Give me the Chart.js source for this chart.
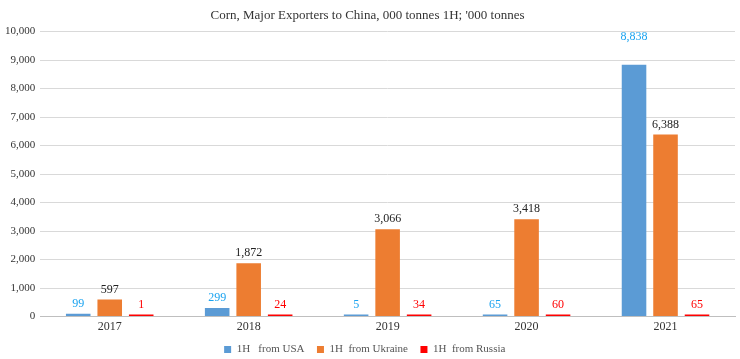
<!DOCTYPE html>
<html><head><meta charset="utf-8">
<script src="https://cdn.jsdelivr.net/npm/chart.js@4/dist/chart.umd.min.js"></script>
<style>html,body{margin:0;padding:0;background:#fff}#w{width:740px;height:359px}</style>
</head><body><div id="w"><canvas id="c"></canvas></div>
<script>
const categories = ['2017','2018','2019','2020','2021'];
const usa = [99, 299, 5, 65, 8838];
const ukraine = [597, 1872, 3066, 3418, 6388];
const russia = [1, 24, 34, 60, 65];
const seriesNames = ['1H   from USA', '1H  from Ukraine', '1H  from Russia'];
const yTicks = [0,1000,2000,3000,4000,5000,6000,7000,8000,9000,10000];

const labelColors = ['#1AA3F0', '#222222', '#FF0000'];
const fmt = v => v.toLocaleString('en-US');

const labelPlugin = {
  id: 'vals',
  afterDatasetsDraw(chart) {
    const ctx = chart.ctx;
    ctx.save();
    ctx.font = '12px "Liberation Serif", serif';
    ctx.textAlign = 'center';
    ctx.textBaseline = 'bottom';
    chart.data.datasets.forEach((ds, di) => {
      const meta = chart.getDatasetMeta(di);
      meta.data.forEach((bar, i) => {
        ctx.fillStyle = labelColors[di];
        let y = bar.y - 4;
        if (di === 0 && i === 4) y = bar.y - 22;
        ctx.fillText(fmt(ds.data[i]), bar.x, y);
      });
    });
    ctx.restore();
  }
};

new Chart(document.getElementById('c'), {
  type: 'bar',
  data: {
    labels: categories,
    datasets: [
      {label: seriesNames[0], data: usa, backgroundColor: '#5B9BD5', minBarLength: 2},
      {label: seriesNames[1], data: ukraine, backgroundColor: '#ED7D31', minBarLength: 2},
      {label: seriesNames[2], data: russia, backgroundColor: '#FF0000', minBarLength: 2}
    ]
  },
  plugins: [labelPlugin],
  options: {
    responsive: true,
    maintainAspectRatio: false,
    animation: false,
    layout: {padding: {left: 0, right: 5, top: 4, bottom: -6}},
    datasets: {bar: {barPercentage: 0.78, categoryPercentage: 0.68}},
    plugins: {
      title: {display: true, text: "Corn, Major Exporters to China, 000 tonnes 1H; '000 tonnes",
        color: '#333', font: {family: '"Liberation Serif", serif', size: 13, weight: 'normal'},
        padding: {top: 4, bottom: 8}},
      legend: {position: 'bottom',
        labels: {boxWidth: 7, boxHeight: 7, color: '#555', padding: 7,
          font: {family: '"Liberation Serif", serif', size: 11},
          generateLabels: chart => Chart.defaults.plugins.legend.labels.generateLabels(chart)
            .map(l => Object.assign(l, {text: l.text + '  '}))}},
      tooltip: {enabled: false}
    },
    scales: {
      x: {
        grid: {display: false, drawTicks: false},
        border: {color: '#BFBFBF'},
        ticks: {color: '#333', padding: 3, font: {family: '"Liberation Serif", serif', size: 12}}
      },
      y: {
        min: 0, max: 10000,
        afterBuildTicks: s => { s.ticks = yTicks.map(v => ({value: v})); },
        grid: {color: '#D9D9D9', drawTicks: false},
        border: {display: false},
        ticks: {color: '#333', padding: 5, callback: v => fmt(v),
          font: {family: '"Liberation Serif", serif', size: 11}}
      }
    }
  }
});
</script></body></html>
